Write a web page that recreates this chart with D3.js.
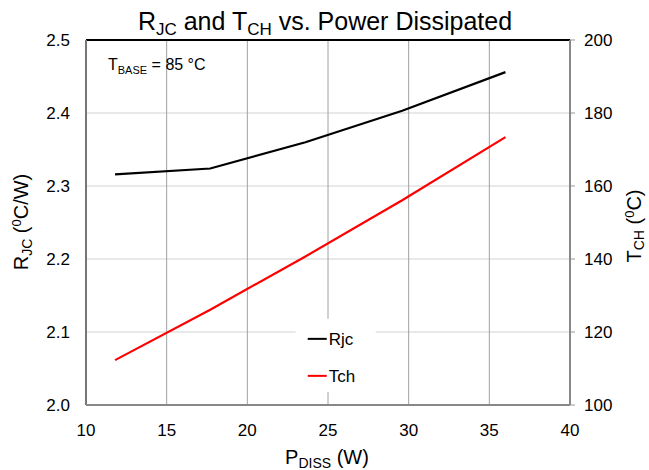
<!DOCTYPE html>
<html>
<head>
<meta charset="utf-8">
<script src="https://cdn.jsdelivr.net/npm/d3@7"></script>
<style>
  body { margin: 0; background: #fff; }
  svg text { font-family: "Liberation Sans", Arial, sans-serif; fill: #000; }
</style>
</head>
<body>
<div id="chart"></div>
<script>
// power dissipated (W)
const pDiss = [11.8, 17.7, 23.6, 29.6, 36.0];
// junction-to-case resistance (°C/W)
const rjc = [2.316, 2.324, 2.360, 2.403, 2.456];
// channel temperature (°C)
const tch = [112.3, 126.1, 140.7, 156.1, 173.4];

const xTicks = [10, 15, 20, 25, 30, 35, 40];
const yLeftTicks = [2.0, 2.1, 2.2, 2.3, 2.4, 2.5];
const yRightTicks = [100, 120, 140, 160, 180, 200];

const width = 649, height = 470;
const margin = { top: 40, right: 79, bottom: 65, left: 86 };
const w = width - margin.left - margin.right;
const h = height - margin.top - margin.bottom;

const svg = d3.select('#chart')
    .append('svg')
    .attr('width', width)
    .attr('height', height);

const g = svg.append('g')
    .attr('transform', `translate(${margin.left},${margin.top})`);

const x = d3.scaleLinear().domain([10, 40]).range([0, w]);
const yL = d3.scaleLinear().domain([2.0, 2.5]).range([h, 0]);
const yR = d3.scaleLinear().domain([100, 200]).range([h, 0]);

// horizontal grid
g.selectAll('.hgrid')
    .data(yLeftTicks.slice(1, -1))
    .enter().append('line')
    .attr('x1', 0).attr('x2', w)
    .attr('y1', d => yL(d)).attr('y2', d => yL(d))
    .attr('stroke', '#d2d2d2').attr('stroke-width', 1);

// vertical grid
g.selectAll('.vgrid')
    .data(xTicks.slice(1, -1))
    .enter().append('line')
    .attr('x1', d => x(d)).attr('x2', d => x(d))
    .attr('y1', 0).attr('y2', h)
    .attr('stroke', '#a0a0a0').attr('stroke-width', 1);

// right axis outward ticks
g.selectAll('.rtick')
    .data(yRightTicks)
    .enter().append('line')
    .attr('x1', w).attr('x2', w + 5)
    .attr('y1', d => yR(d)).attr('y2', d => yR(d))
    .attr('stroke', '#999').attr('stroke-width', 1);

// lines
const lineL = d3.line().x((d, i) => x(pDiss[i])).y(d => yL(d));
const lineR = d3.line().x((d, i) => x(pDiss[i])).y(d => yR(d));

g.append('path').datum(rjc)
    .attr('fill', 'none').attr('stroke', '#000').attr('stroke-width', 2.2)
    .attr('d', lineL);
g.append('path').datum(tch)
    .attr('fill', 'none').attr('stroke', '#ff0000').attr('stroke-width', 2.2)
    .attr('d', lineR);

// legend
const legend = g.append('g').attr('transform', `translate(${x(23)},${yL(2.118)})`);
legend.append('rect')
    .attr('x', 0).attr('y', 0).attr('width', 80).attr('height', 73)
    .attr('fill', '#fff');
[{ label: 'Rjc', color: '#000', dy: 20 }, { label: 'Tch', color: '#ff0000', dy: 57 }].forEach(s => {
    legend.append('line')
        .attr('x1', 12).attr('x2', 31).attr('y1', s.dy).attr('y2', s.dy)
        .attr('stroke', s.color).attr('stroke-width', 2);
    legend.append('text')
        .attr('x', 33).attr('y', s.dy + 6)
        .attr('font-size', '17px')
        .text(s.label);
});

// frame
g.append('line').attr('x1', 0).attr('x2', w).attr('y1', 0).attr('y2', 0)
    .attr('stroke', '#000').attr('stroke-width', 2);
g.append('line').attr('x1', 0).attr('x2', 0).attr('y1', 0).attr('y2', h)
    .attr('stroke', '#777').attr('stroke-width', 2);
g.append('line').attr('x1', 0).attr('x2', w).attr('y1', h).attr('y2', h)
    .attr('stroke', '#888').attr('stroke-width', 2);
g.append('line').attr('x1', w).attr('x2', w).attr('y1', 0).attr('y2', h)
    .attr('stroke', '#888').attr('stroke-width', 2);

// tick labels
g.selectAll('.xlab')
    .data(xTicks)
    .enter().append('text')
    .attr('x', d => x(d)).attr('y', h + 31)
    .attr('text-anchor', 'middle')
    .attr('font-size', '17px')
    .text(d => d);

g.selectAll('.ylab')
    .data(yLeftTicks)
    .enter().append('text')
    .attr('x', -16).attr('y', d => yL(d) + 6)
    .attr('text-anchor', 'end')
    .attr('font-size', '17px')
    .text(d => d.toFixed(1));

g.selectAll('.yrlab')
    .data(yRightTicks)
    .enter().append('text')
    .attr('x', w + 14).attr('y', d => yR(d) + 6)
    .attr('text-anchor', 'start')
    .attr('font-size', '17px')
    .text(d => d);

// annotation
const ann = g.append('text').attr('x', 22).attr('y', 30).attr('font-size', '16px');
ann.append('tspan').text('T');
ann.append('tspan').attr('font-size', '11px').attr('dy', 4).text('BASE');
ann.append('tspan').attr('dy', -4).text(' = 85 °C');

// title
const title = svg.append('text')
    .attr('x', 325).attr('y', 30)
    .attr('text-anchor', 'middle')
    .attr('font-size', '25px');
title.append('tspan').text('R');
title.append('tspan').attr('font-size', '17px').attr('dy', 5).text('JC');
title.append('tspan').attr('dy', -5).text(' and T');
title.append('tspan').attr('font-size', '17px').attr('dy', 5).text('CH');
title.append('tspan').attr('dy', -5).text(' vs. Power Dissipated');

// x axis title
const xt = svg.append('text')
    .attr('x', 327).attr('y', 464)
    .attr('text-anchor', 'middle')
    .attr('font-size', '20px');
xt.append('tspan').text('P');
xt.append('tspan').attr('font-size', '14px').attr('dy', 4).text('DISS');
xt.append('tspan').attr('dy', -4).text(' (W)');

// left y title
const yt = svg.append('text')
    .attr('transform', `translate(28,222) rotate(-90)`)
    .attr('text-anchor', 'middle')
    .attr('font-size', '20px');
yt.append('tspan').text('R');
yt.append('tspan').attr('font-size', '14px').attr('dy', 4).text('JC');
yt.append('tspan').attr('dy', -4).text(' (');
yt.append('tspan').attr('font-size', '13px').attr('dy', -7).text('0');
yt.append('tspan').attr('dy', 7).text('C/W)');

// right y title (sits tight against the right edge)
const yrt = svg.append('text')
    .attr('transform', `translate(641,226) rotate(-90)`)
    .attr('text-anchor', 'middle')
    .attr('font-size', '20px');
yrt.append('tspan').text('T');
yrt.append('tspan').attr('font-size', '14px').attr('dy', 3).text('CH');
yrt.append('tspan').attr('dy', -3).text(' (');
yrt.append('tspan').attr('font-size', '13px').attr('dy', -7).text('0');
yrt.append('tspan').attr('dy', 7).text('C)');
</script>
</body>
</html>
